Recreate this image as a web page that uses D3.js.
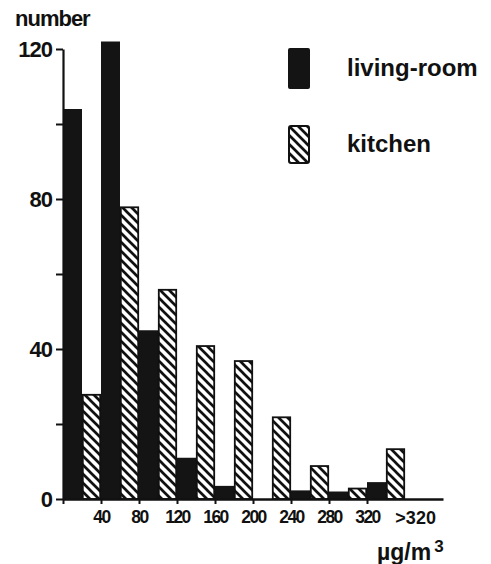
<!DOCTYPE html>
<html>
<head>
<meta charset="utf-8">
<script src="https://cdn.jsdelivr.net/npm/d3@7"></script>
<style>
  body { margin: 0; background: #fff; }
  svg text { fill: #111; }
</style>
</head>
<body>
<script>
// bins of concentration (µg/m3), labelled by their upper limit
const binLabels = ["40", "80", "120", "160", "200", "240", "280", "320", ">320"];
const livingRoom = [104, 122, 45, 11, 3.5, 0, 2.3, 2, 4.5];
const kitchen = [28, 78, 56, 41, 37, 22, 9, 3, 13.5];
const yTicks = [0, 20, 40, 60, 80, 100, 120];
const seriesNames = ["living-room", "kitchen"];

const W = 491, H = 564;
const m = { top: 49, left: 63 };
const w = 380, h = 450;

const svg = d3.select("body").append("svg")
    .attr("width", W)
    .attr("height", H);

// hatch for the kitchen bars
const defs = svg.append("defs");
defs.append("pattern")
    .attr("id", "hatch")
    .attr("patternUnits", "userSpaceOnUse")
    .attr("width", 9)
    .attr("height", 9)
    .call(p => {
        p.append("rect").attr("width", 9).attr("height", 9).attr("fill", "#fff");
        p.append("path")
            .attr("d", "M-2,-2 L11,11 M-2,7 L2,11 M7,-2 L11,2")
            .attr("stroke", "#111")
            .attr("stroke-width", 2.7);
    });

const g = svg.append("g").attr("transform", "translate(" + m.left + "," + m.top + ")");

// x: group boundaries 0..10 (axis runs a bit past last group)
const x = d3.scaleLinear().domain([0, 10]).range([0, w]);
const xBand = d3.scaleBand().domain(d3.range(binLabels.length)).range([0, x(9)]);
const xSub = d3.scaleBand().domain(seriesNames).range([0, xBand.bandwidth()]);
const y = d3.scaleLinear().domain([0, 120]).range([h, 0]);

const font = "'Liberation Sans', Arial, sans-serif";

// bars
g.selectAll("rect.living")
    .data(livingRoom)
    .enter()
    .append("rect")
    .attr("class", "living")
    .attr("x", (d, i) => xBand(i) + xSub("living-room"))
    .attr("y", d => y(d))
    .attr("width", xSub.bandwidth())
    .attr("height", d => h - y(d))
    .attr("fill", "#141414");

g.selectAll("rect.kitchen")
    .data(kitchen)
    .enter()
    .append("rect")
    .attr("class", "kitchen")
    .attr("x", (d, i) => xBand(i) + xSub("kitchen") + 0.8)
    .attr("y", d => y(d) + 0.8)
    .attr("width", xSub.bandwidth() - 1.6)
    .attr("height", d => Math.max(0, h - y(d) - 0.8))
    .attr("fill", "url(#hatch)")
    .attr("stroke", "#111")
    .attr("stroke-width", 1.8);

// x axis
const xAxis = d3.axisBottom(x)
    .tickValues(d3.range(0, 9))
    .tickSize(5)
    .tickSizeOuter(0)
    .tickPadding(7)
    .tickFormat(i => i === 0 ? "" : binLabels[i - 1]);

const gx = g.append("g")
    .attr("transform", "translate(0," + h + ")")
    .call(xAxis);
gx.select(".domain").attr("stroke", "#111").attr("stroke-width", 2.6);
gx.selectAll(".tick line").attr("stroke", "#111").attr("stroke-width", 2);
gx.selectAll(".tick text")
    .attr("font-family", font)
    .attr("font-weight", "bold")
    .attr("font-size", 17.5)
    .attr("letter-spacing", -1.5)
    .attr("fill", "#111");

// last open-ended bin label
gx.append("text")
    .attr("x", x(9.28))
    .attr("y", 12)
    .attr("dy", "0.71em")
    .attr("text-anchor", "middle")
    .attr("font-family", font)
    .attr("font-weight", "bold")
    .attr("font-size", 18)
    .attr("letter-spacing", 0)
    .text(binLabels[binLabels.length - 1]);

// y axis
const yAxis = d3.axisLeft(y)
    .tickValues(yTicks)
    .tickSize(7)
    .tickSizeOuter(0)
    .tickPadding(4)
    .tickFormat(d => d % 40 === 0 ? d : "");

const gy = g.append("g").call(yAxis);
gy.select(".domain").attr("stroke", "#111").attr("stroke-width", 2.2);
gy.selectAll(".tick line").attr("stroke", "#111").attr("stroke-width", 2);
gy.selectAll(".tick text")
    .attr("font-family", font)
    .attr("font-weight", "bold")
    .attr("font-size", 22)
    .attr("letter-spacing", -1)
    .attr("fill", "#111");

// axis titles
svg.append("text")
    .attr("x", 15)
    .attr("y", 26)
    .attr("font-family", font)
    .attr("font-weight", "bold")
    .attr("font-size", 22)
    .attr("letter-spacing", -1)
    .text("number");

const unit = svg.append("text")
    .attr("x", 377)
    .attr("y", 560)
    .attr("font-family", font)
    .attr("font-weight", "bold")
    .attr("font-size", 23)
    .text("µg/m");
unit.append("tspan")
    .attr("dx", 3)
    .attr("dy", -8)
    .attr("font-size", 17)
    .text("3");

// legend
const legend = svg.append("g").attr("transform", "translate(288,48)");
const legendRow = legend.selectAll("g")
    .data(seriesNames)
    .enter()
    .append("g")
    .attr("transform", (d, i) => "translate(0," + i * 77 + ")");

legendRow.append("rect")
    .attr("x", d => d === "kitchen" ? 1 : 0)
    .attr("y", d => d === "kitchen" ? 1 : 0)
    .attr("width", d => d === "kitchen" ? 20 : 22)
    .attr("height", d => d === "kitchen" ? 37 : 41)
    .attr("rx", 2)
    .attr("fill", d => d === "kitchen" ? "url(#hatch)" : "#141414")
    .attr("stroke", d => d === "kitchen" ? "#111" : "none")
    .attr("stroke-width", 2);

legendRow.append("text")
    .attr("x", 59)
    .attr("y", d => d === "kitchen" ? 19 : 20)
    .attr("dy", "0.35em")
    .attr("font-family", font)
    .attr("font-weight", "bold")
    .attr("font-size", 24)
    .text(d => d);
</script>
</body>
</html>
